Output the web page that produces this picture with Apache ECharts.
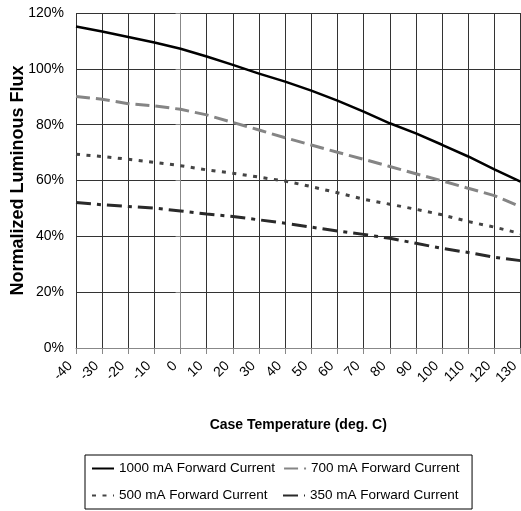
<!DOCTYPE html>
<html>
<head>
<meta charset="utf-8">
<script src="https://cdn.jsdelivr.net/npm/echarts@6/dist/echarts.min.js"></script>
<style>
  html, body { margin: 0; padding: 0; background: #ffffff; }
  #chart { width: 521px; height: 511px; }
</style>
</head>
<body>
<div id="chart"></div>
<script>
// Case temperature (deg. C) sample points
const temperatures = [-40, -30, -20, -10, 0, 10, 20, 30, 40, 50, 60, 70, 80, 90, 100, 110, 120, 130];

// Normalized luminous flux (%) per forward current
const flux1000 = [115.2, 113.4, 111.4, 109.4, 107.2, 104.4, 101.4, 98.3, 95.4, 92.2, 88.6, 84.7, 80.5, 76.9, 72.8, 68.6, 64.0, 59.6];
const flux700  = [90.1, 89.1, 87.5, 86.7, 85.5, 83.5, 80.8, 78.1, 75.3, 72.7, 70.1, 67.6, 65.0, 62.4, 59.9, 57.2, 54.6, 50.6];
const flux500  = [69.4, 68.6, 67.6, 66.5, 65.3, 63.8, 62.6, 61.2, 59.8, 57.8, 55.6, 53.3, 51.5, 49.7, 47.7, 45.3, 43.3, 41.0];
const flux350  = [52.1, 51.3, 50.7, 50.1, 49.1, 48.0, 47.1, 45.9, 44.7, 43.3, 41.9, 40.7, 39.3, 37.5, 35.7, 34.2, 32.5, 31.3];

const seriesNames = ['1000 mA Forward Current', '700 mA Forward Current', '500 mA Forward Current', '350 mA Forward Current'];

// Axis ranges
const xMin = -40, xMax = 130, xStep = 10;
const yMin = 0, yMax = 120, yStep = 20;

const FONT = '"Liberation Sans", Arial, Helvetica, sans-serif';

function pairs(values) {
  return temperatures.map((t, i) => [t, values[i]]);
}

const chart = echarts.init(document.getElementById('chart'), null, { renderer: 'canvas' });

chart.setOption({
  animation: false,
  backgroundColor: '#ffffff',
  grid: { left: 76, right: 0.5, top: 13, bottom: 163, containLabel: false, outerBoundsMode: 'none' },
  xAxis: {
    type: 'value',
    min: xMin, max: xMax, interval: xStep,
    name: 'Case Temperature (deg. C)',
    nameLocation: 'middle',
    nameGap: 70,
    nameTextStyle: { fontFamily: FONT, fontSize: 14, fontWeight: 'bold', color: '#000' },
    axisLine: { show: true, onZero: false, lineStyle: { color: '#888', width: 1 } },
    axisTick: { show: true, inside: false, length: 6, lineStyle: { color: '#888' } },
    axisLabel: {
      rotate: 45, margin: 10, padding: [0, 8, 0, 0],
      fontFamily: FONT, fontSize: 14, color: '#000',
      showMinLabel: true, showMaxLabel: true, hideOverlap: false
    },
    splitLine: { show: true, lineStyle: { color: '#333', width: 1 } }
  },
  yAxis: {
    type: 'value',
    min: yMin, max: yMax, interval: yStep,
    name: 'Normalized Luminous Flux',
    nameLocation: 'middle',
    nameGap: 49,
    nameMoveOverlap: false,
    nameTextStyle: { fontFamily: FONT, fontSize: 18, fontWeight: 'bold', color: '#000' },
    axisLine: { show: true, lineStyle: { color: '#888', width: 1 } },
    axisTick: { show: true, inside: false, length: 5, lineStyle: { color: '#888' } },
    axisLabel: { margin: 12, fontFamily: FONT, fontSize: 14, color: '#000', formatter: '{value}%' },
    splitLine: { show: true, lineStyle: { color: '#333', width: 1 } }
  },
  legend: {
    show: true,
    left: 85, top: 455,
    width: 380,
    orient: 'horizontal',
    itemWidth: 22, itemHeight: 19, itemGap: 8,
    padding: [4, 6],
    borderColor: '#000', borderWidth: 1, borderRadius: 0,
    itemStyle: { color: 'rgba(0,0,0,0)', borderWidth: 0, opacity: 0 },
    textStyle: { fontFamily: FONT, fontSize: 13.5, lineHeight: 19, color: '#000', width: 155 },
    data: seriesNames
  },
  series: [
    {
      name: seriesNames[0], type: 'line', symbol: 'none', data: pairs(flux1000),
      lineStyle: { color: '#000', width: 2.5, type: 'solid' }, itemStyle: { color: '#000' }
    },
    {
      name: seriesNames[1], type: 'line', symbol: 'none', data: pairs(flux700),
      lineStyle: { color: '#858585', width: 3, type: [14, 6] }, itemStyle: { color: '#858585' }
    },
    {
      name: seriesNames[2], type: 'line', symbol: 'none', data: pairs(flux500),
      lineStyle: { color: '#444', width: 3, type: [4, 6.5] }, itemStyle: { color: '#444' }
    },
    {
      name: seriesNames[3], type: 'line', symbol: 'none', data: pairs(flux350),
      lineStyle: { color: '#2a2a2a', width: 3, type: [15, 6, 4, 6] }, itemStyle: { color: '#2a2a2a' }
    }
  ]
});
</script>
</body>
</html>
